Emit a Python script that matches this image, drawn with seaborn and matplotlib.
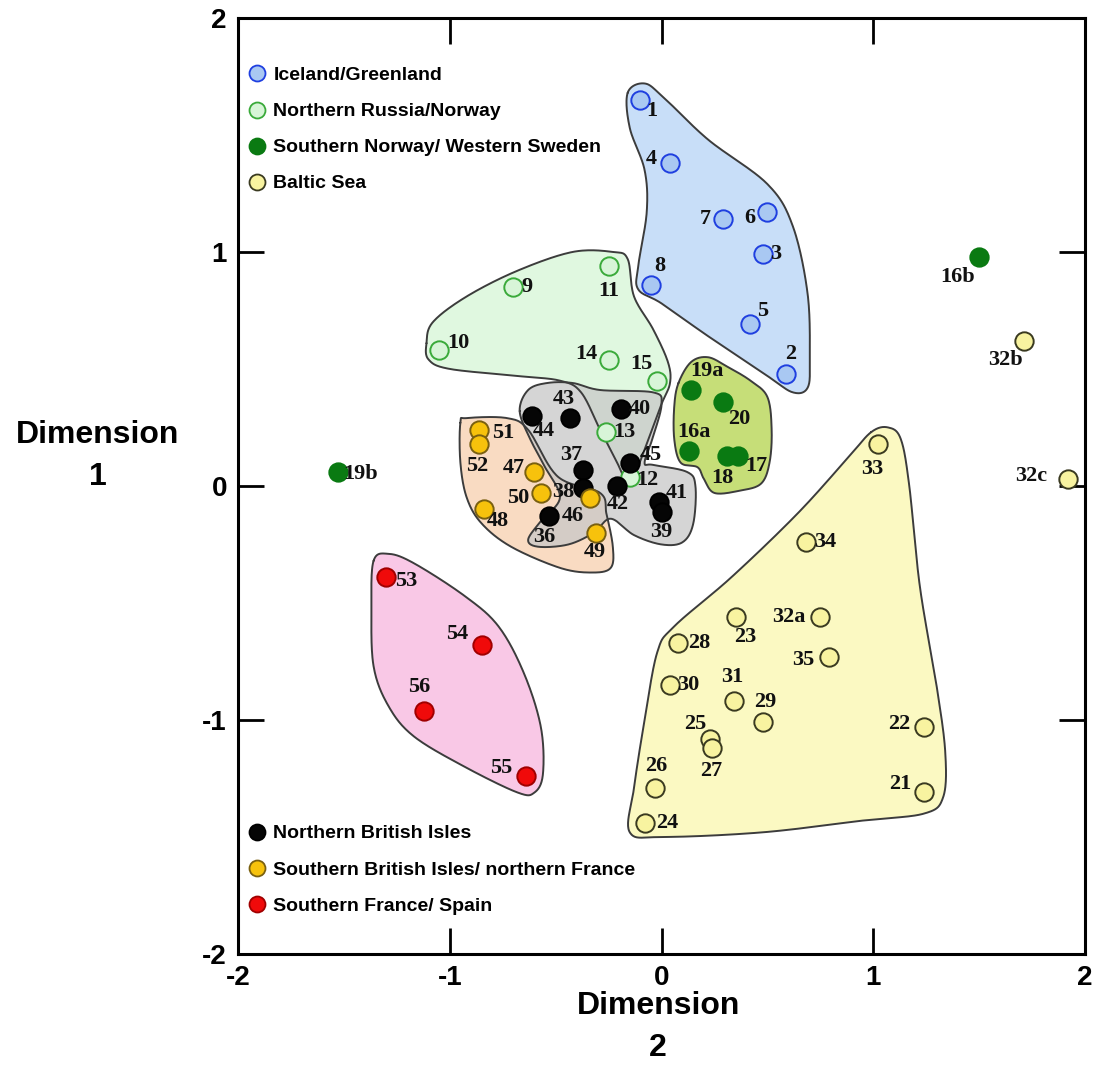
import numpy as np
import pandas as pd
import seaborn as sns
import matplotlib.pyplot as plt
from matplotlib.lines import Line2D

sns.set_theme(style="ticks")
plt.rcParams['font.family'] = ['Liberation Sans', 'DejaVu Sans']
plt.rcParams['axes.unicode_minus'] = False
plt.rcParams['text.color'] = 'black'
plt.rcParams['axes.labelcolor'] = 'black'

# sites: label, dimension 2 (x), dimension 1 (y)
iceland_lbl = ['1', '4', '7', '6', '3', '8', '5', '2']
iceland_x = [-0.10, 0.04, 0.29, 0.50, 0.48, -0.05, 0.42, 0.59]
iceland_y = [1.65, 1.38, 1.14, 1.17, 0.99, 0.86, 0.69, 0.48]

russia_lbl = ['9', '11', '10', '14', '15', '13', '12']
russia_x = [-0.70, -0.25, -1.05, -0.25, -0.02, -0.26, -0.15]
russia_y = [0.85, 0.94, 0.58, 0.54, 0.45, 0.23, 0.04]

snorway_lbl = ['19a', '20', '16a', '18', '17', '19b', '16b']
snorway_x = [0.14, 0.29, 0.13, 0.31, 0.36, -1.53, 1.50]
snorway_y = [0.41, 0.36, 0.15, 0.13, 0.13, 0.06, 0.98]

baltic_lbl = ['33', '34', '32a', '23', '28', '35', '30', '31', '29', '22',
              '25', '27', '26', '21', '24', '32c', '32b']
baltic_x = [1.02, 0.68, 0.75, 0.35, 0.08, 0.79, 0.04, 0.34, 0.48, 1.24,
            0.23, 0.24, -0.03, 1.24, -0.08, 1.92, 1.71]
baltic_y = [0.18, -0.24, -0.56, -0.56, -0.67, -0.73, -0.85, -0.92, -1.01, -1.03,
            -1.08, -1.12, -1.29, -1.31, -1.44, 0.03, 0.62]

nbrit_lbl = ['43', '44', '40', '45', '37', '38', '42', '41', '39', '36']
nbrit_x = [-0.43, -0.61, -0.19, -0.15, -0.37, -0.37, -0.21, -0.01, -0.00, -0.53]
nbrit_y = [0.29, 0.30, 0.33, 0.10, 0.07, -0.01, -0.00, -0.07, -0.11, -0.13]

sbrit_lbl = ['51', '52', '47', '50', '46', '48', '49']
sbrit_x = [-0.86, -0.86, -0.60, -0.57, -0.34, -0.84, -0.31]
sbrit_y = [0.24, 0.18, 0.06, -0.03, -0.05, -0.10, -0.20]

sfrance_lbl = ['53', '54', '56', '55']
sfrance_x = [-1.30, -0.85, -1.12, -0.64]
sfrance_y = [-0.39, -0.68, -0.96, -1.24]

# region outlines (dimension 2, dimension 1)
iceland_hull_x = [-0.16, -0.08, 0.01, 0.22, 0.50, 0.62, 0.69, 0.70, 0.69, 0.62,
                  0.50, 0.22, 0.00, -0.11, -0.11, -0.07, -0.08, -0.15]
iceland_hull_y = [1.68, 1.72, 1.66, 1.48, 1.29, 1.11, 0.82, 0.54, 0.42, 0.40,
                  0.47, 0.64, 0.78, 0.84, 0.94, 1.17, 1.35, 1.53]

russia_hull_x = [-1.11, -1.08, -0.92, -0.68, -0.42, -0.23, -0.16, -0.13, -0.04, 0.03, 0.04,
                 0.00, -0.07, -0.13, -0.16, -0.21, -0.29, -0.38, -0.48, -0.68, -1.00, -1.10]
russia_hull_y = [0.61, 0.70, 0.81, 0.92, 1.00, 1.00, 0.97, 0.81, 0.67, 0.53, 0.44,
                 0.35, 0.18, 0.04, 0.01, 0.10, 0.24, 0.40, 0.45, 0.47, 0.50, 0.54]

snorway_hull_x = [0.08, 0.14, 0.22, 0.31, 0.42, 0.50, 0.52, 0.51, 0.47, 0.37,
                  0.25, 0.20, 0.17, 0.09, 0.06, 0.06]
snorway_hull_y = [0.44, 0.53, 0.55, 0.51, 0.45, 0.38, 0.24, 0.10, 0.01, -0.02,
                  -0.03, 0.03, 0.08, 0.10, 0.20, 0.34]

baltic_hull_x = [0.99, 1.07, 1.13, 1.17, 1.22, 1.30, 1.34, 1.33, 1.24, 0.95,
                 0.48, 0.01, -0.15, -0.13, -0.08, -0.02, 0.06, 0.33, 0.64, 0.88]
baltic_hull_y = [0.23, 0.25, 0.20, 0.00, -0.43, -0.86, -1.14, -1.33, -1.40, -1.43,
                 -1.48, -1.50, -1.48, -1.29, -1.00, -0.71, -0.60, -0.39, -0.12, 0.12]

nbrit_hull_x = [-0.67, -0.63, -0.54, -0.42, -0.29, -0.04, 0.00, -0.04, -0.08, -0.04,
                0.12, 0.16, 0.15, 0.10, 0.00, -0.13, -0.24, -0.32, -0.44, -0.58,
                -0.63, -0.57, -0.48, -0.55, -0.62]
nbrit_hull_y = [0.32, 0.41, 0.44, 0.44, 0.41, 0.40, 0.35, 0.21, 0.10, 0.09,
                0.06, 0.00, -0.16, -0.24, -0.25, -0.21, -0.14, -0.20, -0.25, -0.26,
                -0.23, -0.15, -0.05, 0.08, 0.20]

sbrit_hull_x = [-0.95, -0.92, -0.73, -0.63, -0.49, -0.29, -0.26, -0.23, -0.24,
                -0.33, -0.48, -0.71, -0.85, -0.92, -0.95]
sbrit_hull_y = [0.27, 0.29, 0.29, 0.24, 0.04, -0.03, -0.12, -0.26, -0.35,
                -0.37, -0.35, -0.26, -0.16, -0.05, 0.10]

sfrance_hull_x = [-1.36, -1.29, -1.17, -0.93, -0.77, -0.65, -0.57, -0.56, -0.60,
                  -0.68, -0.93, -1.17, -1.29, -1.36, -1.37]
sfrance_hull_y = [-0.32, -0.29, -0.33, -0.47, -0.60, -0.80, -1.03, -1.23, -1.31,
                  -1.31, -1.20, -1.07, -0.94, -0.77, -0.52]

groups = [
    ('Iceland/Greenland', iceland_lbl, iceland_x, iceland_y),
    ('Northern Russia/Norway', russia_lbl, russia_x, russia_y),
    ('Southern Norway/ Western Sweden', snorway_lbl, snorway_x, snorway_y),
    ('Baltic Sea', baltic_lbl, baltic_x, baltic_y),
    ('Northern British Isles', nbrit_lbl, nbrit_x, nbrit_y),
    ('Southern British Isles/ northern France', sbrit_lbl, sbrit_x, sbrit_y),
    ('Southern France/ Spain', sfrance_lbl, sfrance_x, sfrance_y),
]
rows = []
for name, lbl, xs, ys in groups:
    for l, x, y in zip(lbl, xs, ys):
        rows.append({'site': l, 'Dimension 2': x, 'Dimension 1': y, 'group': name})
df = pd.DataFrame(rows)

face = {'Iceland/Greenland': '#a9c8f2', 'Northern Russia/Norway': '#d8f5d8',
        'Southern Norway/ Western Sweden': '#0a7a12', 'Baltic Sea': '#f8f3a0',
        'Northern British Isles': '#050505', 'Southern British Isles/ northern France': '#f7c20c',
        'Southern France/ Spain': '#f00a0a'}
edge = {'Iceland/Greenland': '#1f3fe0', 'Northern Russia/Norway': '#3aaa3a',
        'Southern Norway/ Western Sweden': '#0a7a12', 'Baltic Sea': '#3a3a20',
        'Northern British Isles': '#000000', 'Southern British Isles/ northern France': '#7a6010',
        'Southern France/ Spain': '#a00000'}

hulls = [
    (iceland_hull_x, iceland_hull_y, '#b6d3f6'),
    (russia_hull_x, russia_hull_y, '#d6f6d6'),
    (snorway_hull_x, snorway_hull_y, '#b3d34b'),
    (baltic_hull_x, baltic_hull_y, '#faf8ae'),
    (sfrance_hull_x, sfrance_hull_y, '#f7b6de'),
    (sbrit_hull_x, sbrit_hull_y, '#f8d0ae'),
    (nbrit_hull_x, nbrit_hull_y, '#c8c8c8'),
]

# label offsets in pixels (right, up)
offs = {'1': (11, -11), '4': (-19, 4), '7': (-18, 0), '6': (-18, -6), '3': (13, 0),
        '8': (9, 19), '5': (12, 13), '2': (4, 20),
        '9': (14, 0), '11': (0, -25), '10': (19, 7), '14': (-22, 6), '15': (-16, 17),
        '13': (18, 0), '12': (18, -3),
        '43': (-7, 19), '44': (11, -15), '40': (19, 0), '45': (21, 8), '37': (-12, 15),
        '38': (-20, -4), '42': (1, -18), '41': (17, 9), '39': (0, -20), '36': (-5, -21),
        '51': (24, -3), '52': (-2, -22), '47': (-21, 4), '50': (-23, -5), '46': (-17, -18),
        '48': (14, -12), '49': (-1, -19),
        '19a': (16, 19), '20': (16, -17), '16a': (5, 19), '18': (-5, -22), '17': (19, -10),
        '19b': (23, -2), '16b': (-22, -20),
        '33': (-5, -25), '34': (20, 0), '32a': (-32, 0), '23': (10, -20), '28': (21, 0),
        '35': (-26, -3), '30': (18, 0), '31': (-1, 24), '29': (2, 20), '22': (-25, 3),
        '25': (-15, 15), '27': (-1, -23), '26': (1, 22), '21': (-24, 8), '24': (23, 0),
        '32c': (-37, 3), '32b': (-18, -19),
        '53': (20, -4), '54': (-24, 11), '56': (-5, 24), '55': (-25, 8)}


def smooth_closed(xs, ys, n=24):
    P = np.column_stack([xs, ys])
    N = len(P)
    t = np.linspace(0, 1, n, endpoint=False)[:, None]
    out = []
    for i in range(N):
        p0, p1, p2, p3 = P[i - 1], P[i], P[(i + 1) % N], P[(i + 2) % N]
        out.append(0.5 * (2 * p1 + (-p0 + p2) * t + (2 * p0 - 5 * p1 + 4 * p2 - p3) * t ** 2
                          + (-p0 + 3 * p1 - 3 * p2 + p3) * t ** 3))
    out = np.vstack(out)
    return np.vstack([out, out[:1]])


fig = plt.figure(figsize=(10.99, 10.88), dpi=100)
ax = fig.add_axes([0.2166, 0.1232, 0.7707, 0.8603])

for hx, hy, c in hulls:
    s = smooth_closed(hx, hy)
    ax.fill(s[:, 0], s[:, 1], color=c, alpha=0.75, lw=0, zorder=1)
    ax.plot(s[:, 0], s[:, 1], color='#3c3c3c', lw=1.4, zorder=2)

for name, _, _, _ in groups:
    sub = df[df.group == name]
    sns.scatterplot(data=sub, x='Dimension 2', y='Dimension 1', color=face[name],
                    edgecolor=edge[name], linewidth=1.4, s=175, ax=ax, zorder=3, legend=False)

for _, r in df.iterrows():
    dx, dy = offs[r.site]
    ax.annotate(r.site, (r['Dimension 2'], r['Dimension 1']), xytext=(dx, dy),
                textcoords='offset pixels', ha='center', va='center', fontsize=16,
                fontweight='bold', family=['Liberation Serif', 'DejaVu Serif'],
                color='#111111', zorder=4)

ax.set_xlim(-2, 2)
ax.set_ylim(-2, 2)
ax.set_xticks([-2, -1, 0, 1, 2])
ax.set_yticks([-2, -1, 0, 1, 2])
ax.tick_params(direction='in', length=19, width=2, top=True, right=True,
               labelsize=20, pad=8, colors='black')
for t in ax.get_xticklabels() + ax.get_yticklabels():
    t.set_fontweight('bold')
for sp in ax.spines.values():
    sp.set_linewidth(2.2)
    sp.set_color('black')

ax.set_xlabel('Dimension\n2', fontsize=23, fontweight='bold', linespacing=1.5)
ax.xaxis.set_label_coords(0.496, -0.078)
ax.xaxis.label.set_va('center')
ax.set_ylabel('Dimension\n1', fontsize=23, fontweight='bold', rotation=0, linespacing=1.5)
ax.yaxis.set_label_coords(-0.166, 0.532)
ax.yaxis.label.set_va('center')
ax.yaxis.label.set_ha('center')


def handles(names):
    return [Line2D([], [], ls='none', marker='o', markersize=11.5, markerfacecolor=face[n],
                   markeredgecolor=edge[n], markeredgewidth=1.3, label=n) for n in names]


top_names = [g[0] for g in groups[:4]]
bot_names = [g[0] for g in groups[4:]]
leg_kw = dict(frameon=False, handlelength=0.9, handletextpad=0.4, borderpad=0,
              borderaxespad=0, labelspacing=0.95,
              prop={'weight': 'bold', 'size': 14, 'family': ['Liberation Sans', 'DejaVu Sans']})
leg1 = ax.legend(handles=handles(top_names), loc='upper left',
                 bbox_to_anchor=(0.012, 0.948), **leg_kw)
ax.add_artist(leg1)
ax.legend(handles=handles(bot_names), loc='lower left',
          bbox_to_anchor=(0.012, 0.042), **leg_kw)

plt.savefig('out.png', dpi=100)
